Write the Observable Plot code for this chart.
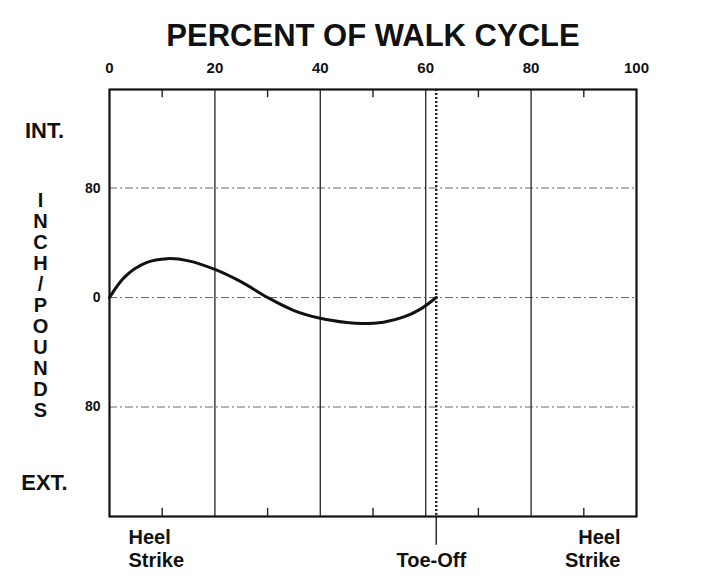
<!DOCTYPE html>
<html>
<head>
<meta charset="utf-8">
<script src="https://cdn.jsdelivr.net/npm/d3@7"></script>
<script src="https://cdn.jsdelivr.net/npm/@observablehq/plot@0.6"></script>
<style>
  html, body { margin: 0; padding: 0; background: #fff; }
</style>
</head>
<body>
<div id="chart"></div>
<script>
// ---- data ----
const title = "PERCENT OF WALK CYCLE";
const xTicks = [0, 20, 40, 60, 80, 100];
const minorTicks = [10, 30, 50, 70, 90];
const gridX = [20, 40, 60, 80];
const gridY = [80, 0, -80];
const yTickLabels = ["80", "0", "80"];
const toeOff = 62;
const pct    = [0, 3, 7, 11, 15, 20, 25, 30, 35, 40, 45, 48, 52, 56, 59, 62];
const moment = [0, 15.5, 25.5, 28.4, 26.8, 20.5, 11.4, 0, -9.5, -15.2, -18.3, -19, -18, -14, -8.5, 0];
const yTitle = "INCH/POUNDS";
const intLabel = "INT.";
const extLabel = "EXT.";
const heelLabel = "Heel\nStrike";
const toeLabel = "Toe-Off";

const curve = pct.map((p, i) => ({pct: p, moment: moment[i]}));
const yDomain = [-160, 152];

const chart = Plot.plot({
  width: 708,
  height: 588,
  marginLeft: 109,
  marginRight: 72,
  marginTop: 89,
  marginBottom: 72,
  x: {domain: [0, 100], label: null},
  y: {domain: yDomain, label: null},
  style: {fontFamily: "'Liberation Sans', Arial, sans-serif", fontWeight: "bold", background: "#fff", color: "#111"},
  marks: [
    Plot.ruleY(gridY, {stroke: "#666", strokeWidth: 1, strokeDasharray: "8,3,2,3"}),
    Plot.ruleX(gridX, {stroke: "#333", strokeWidth: 1.4}),
    Plot.ruleX([toeOff], {stroke: "#222", strokeWidth: 2.4, strokeDasharray: "2,2"}),
    Plot.ruleX([toeOff], {y1: yDomain[0], y2: yDomain[0] - 21, stroke: "#222", strokeWidth: 1.4}),
    Plot.ruleX(minorTicks, {y1: yDomain[1], y2: yDomain[1] - 6, stroke: "#222", strokeWidth: 1.4}),
    Plot.ruleX(minorTicks, {y1: yDomain[0], y2: yDomain[0] + 6, stroke: "#222", strokeWidth: 1.4}),
    Plot.frame({stroke: "#111", strokeWidth: 2.2}),
    Plot.line(curve, {x: "pct", y: "moment", curve: "catmull-rom", stroke: "#111", strokeWidth: 3}),
    Plot.axisX(xTicks, {anchor: "top", label: null, tickSize: 0, tickPadding: 17, fontSize: 15, fontWeight: "bold"}),
    Plot.axisY(gridY, {anchor: "left", label: null, tickSize: 0, tickPadding: 9, fontSize: 14, fontWeight: "bold",
      tickFormat: (d, i) => yTickLabels[i]}),
    Plot.text([title], {text: d => d, frameAnchor: "top", dy: -53, lineAnchor: "middle", fontSize: 31, fontWeight: "bold"}),
    Plot.text([intLabel], {text: d => d, frameAnchor: "top-left", dx: -65, dy: 41, textAnchor: "middle", lineAnchor: "middle", fontSize: 22, fontWeight: "bold"}),
    Plot.text([extLabel], {text: d => d, frameAnchor: "bottom-left", dx: -65, dy: -34, textAnchor: "middle", lineAnchor: "middle", fontSize: 22, fontWeight: "bold"}),
    Plot.text([yTitle], {text: d => d.split("").join("\n"), frameAnchor: "left", dx: -69, dy: 2, textAnchor: "middle", lineAnchor: "middle", fontSize: 20, lineHeight: 1.05, fontWeight: "bold"}),
    Plot.text([heelLabel], {text: d => d, x: [0], frameAnchor: "bottom", dx: 19, dy: 11, textAnchor: "start", lineAnchor: "top", fontSize: 20, lineHeight: 1.15, fontWeight: "bold"}),
    Plot.text([heelLabel], {text: d => d, x: [100], frameAnchor: "bottom", dx: -16, dy: 11, textAnchor: "end", lineAnchor: "top", fontSize: 20, lineHeight: 1.15, fontWeight: "bold"}),
    Plot.text([toeLabel], {text: d => d, x: [toeOff], frameAnchor: "bottom", dx: -5, dy: 36, textAnchor: "middle", lineAnchor: "top", fontSize: 20, fontWeight: "bold"})
  ]
});
document.getElementById("chart").appendChild(chart);
</script>
</body>
</html>
